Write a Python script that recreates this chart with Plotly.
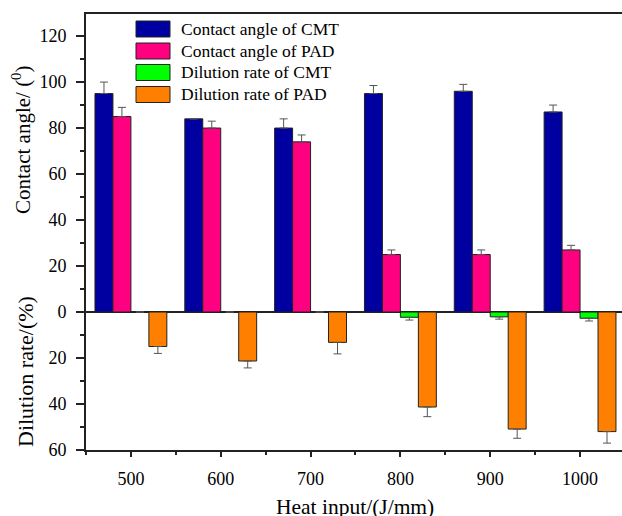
import plotly.graph_objects as go

heat_input = [500, 600, 700, 800, 900, 1000]
ca_cmt = [95, 84, 80, 95, 96, 87]
ca_cmt_err = [5, 0, 4, 3.5, 3, 3]
ca_pad = [85, 80, 74, 25, 25, 27]
ca_pad_err = [4, 3, 3, 2, 2, 2]
dr_cmt = [0, 0, 0, 2.3, 2.1, 2.7]
dr_cmt_err = [0, 0, 0, 1.2, 1.0, 1.2]
dr_pad = [15, 21.3, 13.2, 41.3, 50.9, 52]
dr_pad_err = [3, 3, 5, 4.2, 4, 5]

series_names = ["Contact angle of CMT", "Contact angle of PAD",
                "Dilution rate of CMT", "Dilution rate of PAD"]
colors = ["#0000A0", "#FF0080", "#00FF00", "#FF8000"]

y_tickvals = [-60, -40, -20, 0, 20, 40, 60, 80, 100, 120]
y_ticktext = ["60", "40", "20", "0", "20", "40", "60", "80", "100", "120"]
x_tickvals = heat_input
x_ticktext = [str(v) for v in heat_input]

FONT = "Liberation Serif, Times New Roman, serif"
EC = "#555555"

fig = go.Figure()
data = [
    (ca_cmt, ca_cmt_err, False),
    (ca_pad, ca_pad_err, False),
    (dr_cmt, dr_cmt_err, True),
    (dr_pad, dr_pad_err, True),
]
for (vals, errs, neg), name, col in zip(data, series_names, colors):
    if neg:
        y = [-v for v in vals]
        ey = dict(type="data", symmetric=False, array=[0] * len(errs), arrayminus=errs,
                  color=EC, thickness=1, width=4)
    else:
        y = vals
        ey = dict(type="data", symmetric=False, array=errs, arrayminus=[0] * len(errs),
                  color=EC, thickness=1, width=4)
    fig.add_trace(go.Bar(x=heat_input, y=y, name=name, marker_color=col,
                         marker_line=dict(color="#222222", width=1),
                         error_y=ey, showlegend=False))

# plot area in pixels
L, R, T, B = 86, 622, 14, 450
W, H = 622, 516

def px(x):
    return (x - L) / (R - L)

def py(y):
    return (B - y) / (B - T)

shapes = []
annotations = []
row_y = [29, 51, 72.5, 94.5]
for name, col, ry in zip(series_names, colors, row_y):
    shapes.append(dict(type="rect", xref="paper", yref="paper",
                       x0=px(136), x1=px(170), y0=py(ry - 8), y1=py(ry + 8),
                       fillcolor=col, line=dict(color="#222222", width=1)))
    annotations.append(dict(xref="paper", yref="paper", x=px(179), y=py(ry),
                            xanchor="left", yanchor="middle", text=name, showarrow=False,
                            font=dict(family=FONT, size=17.5, color="black")))

annotations.append(dict(xref="paper", yref="paper", x=px(21), y=py(140),
                        text="Contact angle/ (<sup>0</sup>)", textangle=-90, showarrow=False,
                        xanchor="center", yanchor="middle",
                        font=dict(family=FONT, size=21, color="black")))
annotations.append(dict(xref="paper", yref="paper", x=px(25), y=py(372),
                        text="Dilution rate/(%)", textangle=-90, showarrow=False,
                        xanchor="center", yanchor="middle",
                        font=dict(family=FONT, size=22, color="black")))
annotations.append(dict(xref="paper", yref="paper", x=px(355), y=py(507),
                        text="Heat input/(J/mm)", showarrow=False,
                        xanchor="center", yanchor="middle",
                        font=dict(family=FONT, size=21.5, color="black")))

fig.update_layout(
    width=W, height=H,
    margin=dict(l=L, r=W - R, t=T, b=H - B),
    paper_bgcolor="white", plot_bgcolor="white",
    barmode="group", bargap=0.2, bargroupgap=0,
    shapes=shapes, annotations=annotations,
    font=dict(family=FONT, size=18, color="black"),
)
fig.update_xaxes(range=[450, 1046.7], tickvals=x_tickvals, ticktext=x_ticktext,
                 ticks="outside", ticklen=5, tickwidth=1.5, tickcolor="#222222",
                 ticklabelstandoff=6,
                 showline=True, linecolor="#222222", linewidth=2, mirror=True,
                 showgrid=False, zeroline=False,
                 minor=dict(tickvals=[450, 550, 650, 750, 850, 950], ticks="outside",
                            ticklen=3, tickwidth=1.5, tickcolor="#222222"),
                 tickfont=dict(family=FONT, size=18, color="black"))
fig.update_yaxes(range=[-60, 129.6], tickvals=y_tickvals, ticktext=y_ticktext,
                 ticks="outside", ticklen=8, tickwidth=1.5, tickcolor="#222222",
                 ticklabelstandoff=6,
                 showline=True, linecolor="#222222", linewidth=2,
                 showgrid=False, zeroline=True, zerolinecolor="#222222", zerolinewidth=1.5,
                 minor=dict(tickvals=[-50, -30, -10, 10, 30, 50, 70, 90, 110], ticks="outside",
                            ticklen=4, tickwidth=1.5, tickcolor="#222222"),
                 tickfont=dict(family=FONT, size=18, color="black"))

fig.write_html("out.html")
